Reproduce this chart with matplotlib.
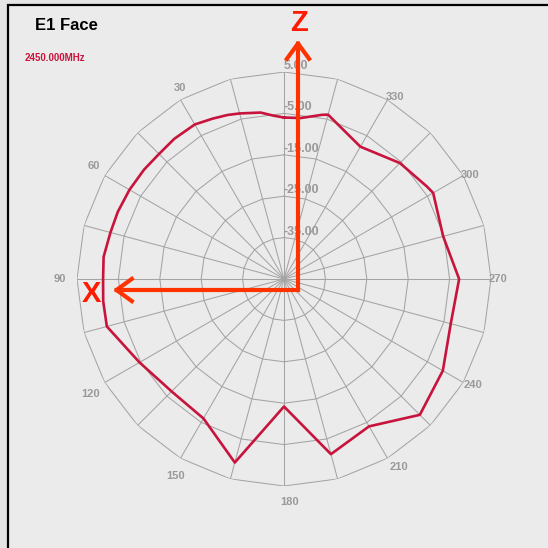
import numpy as np
import matplotlib
matplotlib.use("Agg")
import matplotlib.pyplot as plt
from matplotlib.patches import Rectangle, FancyArrowPatch

# measured pattern (angle in degrees, gain in dB)
angles = [0, 4, 8, 15, 19, 24, 30, 38, 45, 52, 60, 68, 75, 83, 90, 97, 105, 120, 135, 150, 165, 180,
          195, 210, 225, 240, 255, 270, 285, 300, 303, 315, 330, 345, 347, 354, 360]
gain_db = [-6.0, -5.4, -4.4, -3.6, -3.1, -2.6, -1.9, -2.0, -2.3, -2.1, -1.9, -1.7, -1.6, -1.1, -1.3,
           -1.0, -0.7, -4.7, -6.6, -6.1, 0.9, -14.2,
           -1.2, -3.9, 1.4, -0.7, -3.3, -2.7, -5.2, -3.4, -3.9, -5.4, -8.1, -3.9, -4.3, -5.9, -6.0]

ring_values = [-35, -25, -15, -5, 5]
ring_labels = ["-35.00", "-25.00", "-15.00", "-5.00", "5.00"]
angle_ticks = [30, 60, 90, 120, 150, 180, 210, 240, 270, 300, 330]
title = "E1 Face"
freq_label = "2450.000MHz"
r_min, r_max = -45, 5

plt.rcParams['font.family'] = ['Liberation Sans', 'DejaVu Sans']

W = 548
fig = plt.figure(figsize=(W / 100, W / 100), dpi=100)
fig.patch.set_facecolor('#e4e4e4')

def fx(x):
    return x / W

def fy(y):
    return 1 - y / W

# panel with black frame (runs off the right / bottom edge)
fig.patches.append(Rectangle((fx(8), -0.1), 1.2, fy(5) + 0.1, transform=fig.transFigure,
                             facecolor='#ebebeb', edgecolor='black', lw=1.6, zorder=-5))

cx, cy, R = 284, 279, 207
ax = fig.add_axes([fx(cx - R), fy(cy + R), 2 * R / W, 2 * R / W], projection='polar')
ax.set_theta_zero_location('N')
ax.set_theta_direction(1)
ax.set_rlim(r_min, r_max)
ax.grid(False)
ax.set_xticks([])
ax.set_yticks([])
ax.spines['polar'].set_visible(False)
ax.patch.set_alpha(0)

grid_col = '#a4a4a4'
spokes = np.deg2rad(np.arange(0, 361, 15))
for r in ring_values:
    ax.plot(spokes, [r] * len(spokes), color=grid_col, lw=0.75, zorder=1)
for t in spokes[:-1]:
    ax.plot([t, t], [r_min, r_max], color=grid_col, lw=0.75, zorder=1)

ax.plot(np.deg2rad(angles), gain_db, color='#c8143c', lw=1.9, zorder=3)

# radial labels along the 0 deg spoke
for r, lab in zip(ring_values, ring_labels):
    ax.text(0, r, lab, ha='left', va='bottom', fontsize=9, fontweight='bold',
            color='#999999', zorder=2)

# angle labels around the outside
for a in angle_ticks:
    th = np.deg2rad(a)
    r_px = 219 + 11 * np.sin(th) - 4 * np.cos(th)
    r_lab = r_min + r_px / R * (r_max - r_min)
    ax.annotate(str(a), xy=(th, r_lab), xytext=(6, 0), textcoords='offset pixels',
                ha='center', va='center', fontsize=8, fontweight='bold',
                color='#999999', annotation_clip=False)

fig.text(fx(35), fy(30), title, fontsize=12, fontweight='bold', color='black')
fig.text(fx(25), fy(61), freq_label, fontsize=7, fontweight='bold', color='#c8143c')

# axis arrows overlay
arrow_col = '#ff3300'
ox, oy = 298, 290
for tip in [(ox, 40), (113, oy)]:
    fig.add_artist(FancyArrowPatch((fx(ox), fy(oy)), (fx(tip[0]), fy(tip[1])),
                                   transform=fig.transFigure,
                                   arrowstyle='->,head_length=11,head_width=8',
                                   color=arrow_col, lw=3, shrinkA=0, shrinkB=0,
                                   capstyle='projecting', zorder=10))
fig.text(fx(299), fy(23), "Z", fontsize=21, fontweight='bold', color='#ff1a00',
         ha='center', va='center', zorder=11)
fig.text(fx(91), fy(294), "X", fontsize=21, fontweight='bold', color='#ff1a00',
         ha='center', va='center', zorder=11)

plt.savefig("out.png", dpi=100, facecolor=fig.get_facecolor())
plt.close(fig)
